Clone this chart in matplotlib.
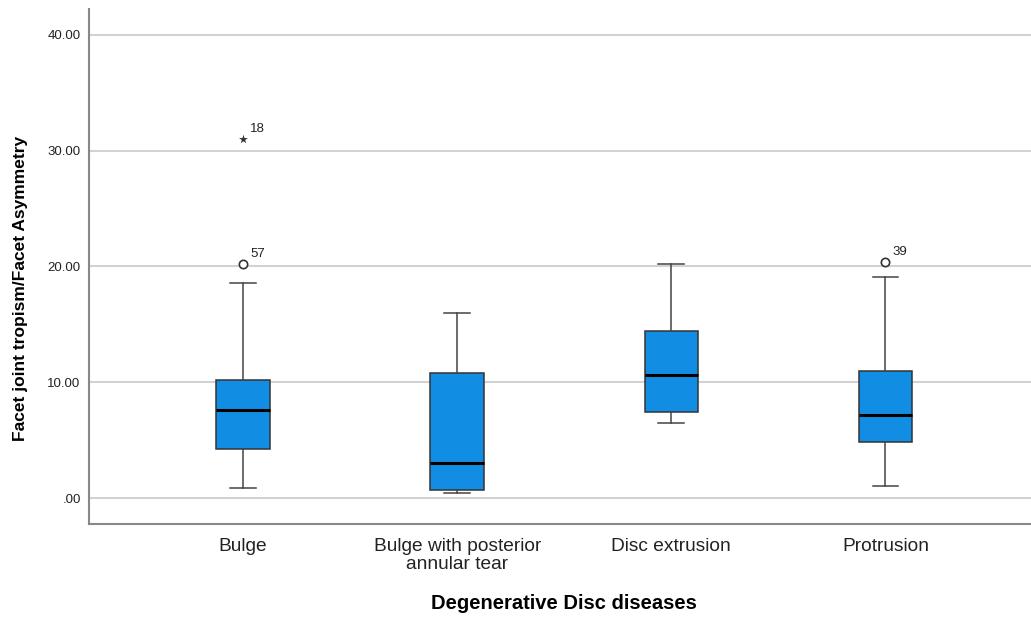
"""
Box plot of facet asymmetry by degenerative disc disease type (SPSS style).
"""
import matplotlib
matplotlib.use("Agg")
import matplotlib.pyplot as plt

plt.rcParams['font.family'] = ['Liberation Sans', 'DejaVu Sans']

# Box plot summary values
categories = ["Bulge", "Bulge with posterior\nannular tear", "Disc extrusion", "Protrusion"]
whis_low = [0.9, 0.4, 6.5, 1.0]
q1 = [4.2, 0.7, 7.45, 4.8]
medians = [7.6, 3.0, 10.6, 7.2]
q3 = [10.2, 10.8, 14.4, 11.0]
whis_high = [18.6, 16.0, 20.2, 19.1]

# Outliers (circles) and extremes (stars) with their case numbers
outlier_group = [0, 3]
outlier_value = [20.2, 20.4]
outlier_case = ["57", "39"]
extreme_group = [0]
extreme_value = [31.0]
extreme_case = ["18"]

yticks = [0, 10, 20, 30, 40]
ytick_labels = [".00", "10.00", "20.00", "30.00", "40.00"]

fig = plt.figure(figsize=(10.31, 6.18), dpi=100)
ax = fig.add_axes([0.0863, 0.152, 0.9137, 0.833])

stats = []
for i in range(len(categories)):
    stats.append({"whislo": whis_low[i], "q1": q1[i], "med": medians[i],
                  "q3": q3[i], "whishi": whis_high[i], "fliers": []})

ax.bxp(stats, positions=range(len(categories)), widths=0.25,
       patch_artist=True, showfliers=False, capwidths=0.12,
       boxprops=dict(facecolor="#128de4", edgecolor="#333333", linewidth=1.1),
       medianprops=dict(color="black", linewidth=2.2),
       whiskerprops=dict(color="#444444", linewidth=1.1),
       capprops=dict(color="#444444", linewidth=1.1), zorder=3)

ax.scatter(outlier_group, outlier_value, s=36, facecolors="white",
           edgecolors="#333333", linewidths=1.2, zorder=4)
for g, v, c in zip(outlier_group, outlier_value, outlier_case):
    ax.annotate(c, (g, v), xytext=(5, 5), textcoords="offset points",
                fontsize=9.5, color="#222222")

ax.scatter(extreme_group, extreme_value, marker="*", s=45, color="#333333",
           linewidths=0, zorder=4)
for g, v, c in zip(extreme_group, extreme_value, extreme_case):
    ax.annotate(c, (g, v), xytext=(5, 5), textcoords="offset points",
                fontsize=9.5, color="#222222")

ax.set_xlim(-0.72, 3.68)
ax.set_ylim(-2.25, 42.2)
ax.set_yticks(yticks)
ax.set_yticklabels(ytick_labels, fontsize=9.5, color="#222222")
ax.set_xticks(range(len(categories)))
ax.set_xticklabels(categories, fontsize=13.8, color="#222222", linespacing=1.1)
ax.tick_params(length=0, pad=6)
ax.tick_params(axis="x", pad=10)

ax.yaxis.grid(True, color="#d2d2d2", linewidth=1.5)
ax.set_axisbelow(True)

for side in ["top", "right"]:
    ax.spines[side].set_visible(False)
for side in ["left", "bottom"]:
    ax.spines[side].set_color("#888888")
    ax.spines[side].set_linewidth(1.5)

ax.set_ylabel("Facet joint tropism/Facet Asymmetry", fontsize=12.5,
              fontweight="bold")
ax.yaxis.set_label_coords(-0.0648, 0.458)
ax.set_xlabel("Degenerative Disc diseases", fontsize=14.5, fontweight="bold")
ax.xaxis.set_label_coords(0.504, -0.136)

fig.savefig("out.png", dpi=100)
